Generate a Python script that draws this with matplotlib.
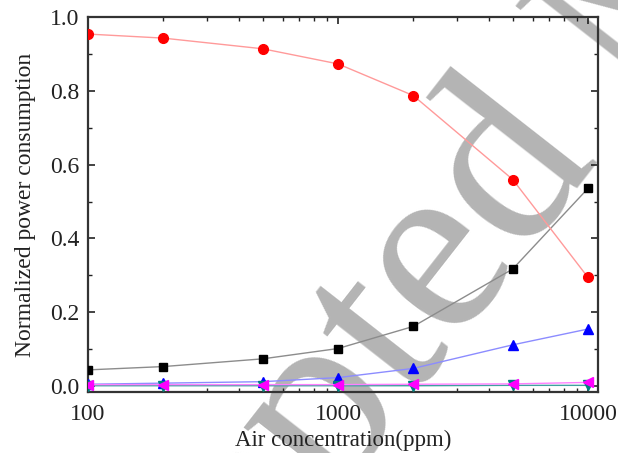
import matplotlib
matplotlib.use("Agg")
import numpy as np
import matplotlib.pyplot as plt
from matplotlib.ticker import MultipleLocator, LogLocator, NullFormatter, FixedLocator, FixedFormatter

conc = [100, 200, 500, 1000, 2000, 5000, 10000]
red_vals = [0.955, 0.944, 0.915, 0.874, 0.788, 0.560, 0.294]
black_vals = [0.043, 0.052, 0.073, 0.101, 0.161, 0.317, 0.536]
blue_vals = [0.004, 0.007, 0.011, 0.022, 0.047, 0.111, 0.154]
teal_vals = [0.000, 0.000, 0.000, 0.000, 0.000, 0.001, 0.001]
magenta_vals = [0.003, 0.003, 0.003, 0.003, 0.004, 0.005, 0.009]

xtick_vals = [100, 1000, 10000]
xtick_labels = ["100", "1000", "10000"]
ytick_vals = [0.0, 0.2, 0.4, 0.6, 0.8, 1.0]
ytick_labels = ["0.0", "0.2", "0.4", "0.6", "0.8", "1.0"]

plt.rcParams['font.family'] = ['Liberation Serif', 'DejaVu Serif']

W, H = 618, 453
fig = plt.figure(figsize=(W / 100, H / 100), dpi=100)
ax = fig.add_axes([0.1424, 0.1347, 0.8252, 0.8267])

ax.plot(conc, black_vals, color='#8c8c8c', lw=1.0, marker='s', ms=6,
        mfc='black', mec='black', zorder=3)
ax.plot(conc, red_vals, color='#ff9a9a', lw=1.0, marker='o', ms=7,
        mfc='#ff0000', mec='#ff0000', zorder=3)
ax.plot(conc, blue_vals, color='#8c8cff', lw=1.0, marker='^', ms=7.5,
        mfc='#0000ff', mec='#0000ff', zorder=3)
ax.plot(conc, teal_vals, color='#40a0a0', lw=1.0, marker='v', ms=7,
        mfc='#008080', mec='#008080', zorder=3)
ax.plot(conc, magenta_vals, color='#ff80ff', lw=1.0, marker='<', ms=7.5,
        mfc='#ff00ff', mec='#ff00ff', zorder=3)

ax.set_xscale('log')
ax.set_xlim(100, 10960)
ax.set_ylim(-0.017, 1.0)

ax.xaxis.set_major_locator(FixedLocator(xtick_vals))
ax.xaxis.set_major_formatter(FixedFormatter(xtick_labels))
ax.xaxis.set_minor_locator(LogLocator(base=10, subs=range(2, 10)))
ax.xaxis.set_minor_formatter(NullFormatter())
ax.yaxis.set_major_locator(FixedLocator(ytick_vals))
ax.yaxis.set_major_formatter(FixedFormatter(ytick_labels))
ax.yaxis.set_minor_locator(MultipleLocator(0.1))

ax.tick_params(which='both', direction='in', top=True, right=True,
               labelsize=17, colors='#222222')
ax.tick_params(which='major', length=5, width=1.2)
ax.tick_params(which='minor', length=3, width=1.0)
ax.tick_params(axis='x', which='major', pad=9)
ax.tick_params(axis='y', which='major', pad=6)
for s in ax.spines.values():
    s.set_linewidth(1.6)
    s.set_color('#333333')

ax.set_xlabel('Air concentration(ppm)', fontsize=16.5, labelpad=3, color='#222222')
ax.set_ylabel('Normalized power consumption', fontsize=17, labelpad=10, color='#222222')

# watermark (drawn beneath the data)
ang = 52.0
fs = 182
b = np.array([np.cos(np.radians(ang)), -np.sin(np.radians(ang))])
p_end = np.array([600.0, 158.0])
p_m = p_end + 0.25 * fs / 72 * 100 * b
wm_kw = dict(fontsize=fs, color='#b4b4b4', rotation=ang, rotation_mode='anchor',
             va='baseline', transform=fig.transFigure, clip_on=False, zorder=0.5)
ax.text(p_end[0] / W, 1 - p_end[1] / H, 'Accepted', ha='right', **wm_kw)
ax.text(p_m[0] / W, 1 - p_m[1] / H, 'Manuscript', ha='left', **wm_kw)

fig.savefig('out.png', dpi=100)
